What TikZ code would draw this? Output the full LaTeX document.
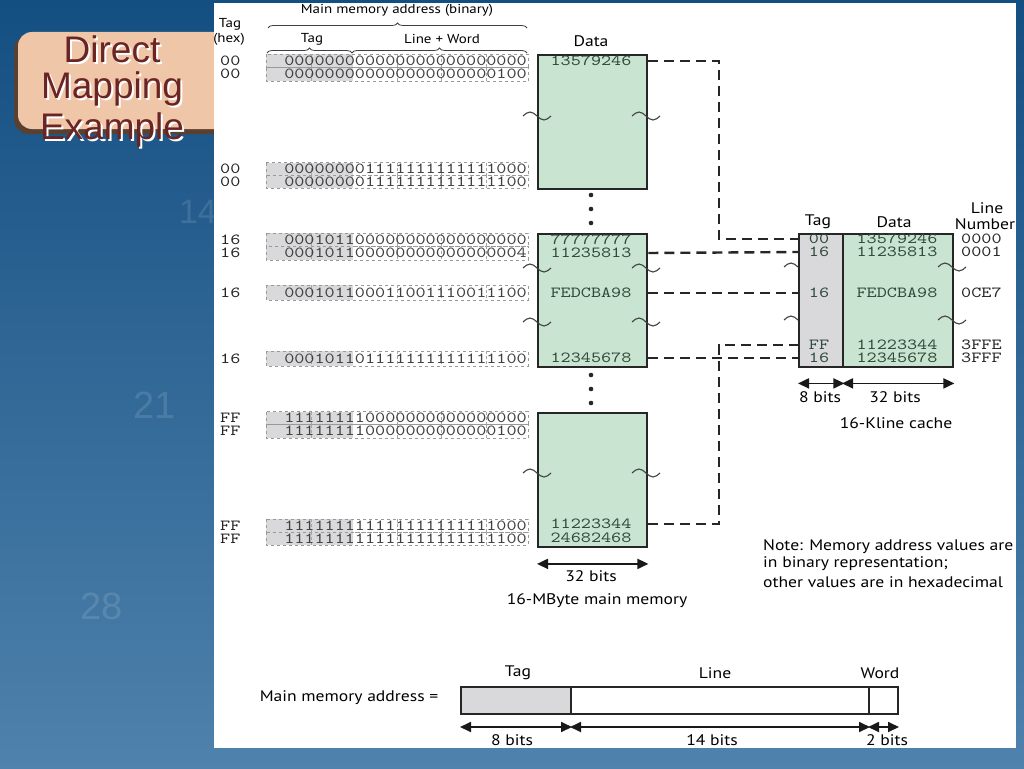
\documentclass[tikz,border=0pt]{standalone}
\usepackage{fontspec}
\setmainfont{PT Sans}[FakeStretch=1.15]
\newfontfamily\titlefont{Liberation Sans}
\newfontfamily\monofont{lmmono10-regular.otf}[FakeStretch=1.25]
\usetikzlibrary{arrows.meta,decorations.pathreplacing}
\definecolor{bgtop}{HTML}{144F82}
\definecolor{bgbot}{HTML}{4F82AC}
\definecolor{memgreen}{HTML}{C9E5D1}
\definecolor{taggray}{HTML}{D9D9DB}
\definecolor{datatxt}{HTML}{2F4A3A}
\definecolor{titlered}{HTML}{6B2424}
\definecolor{peach}{HTML}{F0C6A8}
\definecolor{peachdark}{HTML}{5A4030}
\begin{document}
\begin{tikzpicture}[x=1pt,y=-1pt,
  memblock/.style={draw=black!85, line width=2.4pt, fill=memgreen, inner sep=0, anchor=north west},
  tagcol/.style={draw=black!85, line width=2.4pt, fill=taggray, inner sep=0, anchor=north west},
  mono/.style={font=\fontsize{15.4}{17}\monofont, text=datatxt, inner sep=0},
  hexlbl/.style={font=\fontsize{15.4}{17}\monofont, text=black!85, inner sep=0, anchor=west},
  lbl/.style={font=\fontsize{15.3}{18}\selectfont, inner sep=0, text=black},
  small/.style={font=\fontsize{13}{15}\selectfont, inner sep=0, text=black},
  link/.style={line width=2.4pt, dash pattern=on 10pt off 6pt, black!85},
  dim/.style={line width=1.8pt, black!90, {Triangle[length=11pt,width=10pt]}-{Triangle[length=11pt,width=10pt]}},
  tilde/.style={line width=1.1pt, black!75},
  addrbox/.style={draw=gray!80, dashed, line width=0.7pt},
  addrsep/.style={draw=gray!70, densely dashed, line width=0.6pt},
  brc/.style={decorate, decoration={brace, amplitude=5pt}, line width=0.8pt, black!75},
  field/.style={draw=black!85, line width=2pt, inner sep=0, anchor=north west, minimum height=27pt},
  ttl/.style={font=\fontsize{37}{42}\titlefont, inner sep=0}
]
\useasboundingbox (0,0) rectangle (1024,768);
% background
\shade[top color=bgtop, bottom color=bgbot] (0,0) rectangle (1024,768);
\node[font=\fontsize{34}{36}\titlefont, text=white, opacity=0.12] (bgn1) at (198,212) {14};
\node[font=\fontsize{38}{40}\titlefont, text=white, opacity=0.12] (bgn2) at (155,405) {21};
\node[font=\fontsize{38}{40}\titlefont, text=white, opacity=0.12] (bgn3) at (102,606) {28};
% title box
\fill[peachdark, rounded corners=15pt] (14,35) rectangle (240,134);
\fill[peach, rounded corners=14pt] (18,32) rectangle (240,129);
\foreach \yy/\txt [count=\k] in {49/Direct, 89/Mapping, 130/Example} {
  \node[ttl, text=white] (tsh\k) at (114,\yy+2) {\txt};
  \node[ttl, text=titlered] (t\k) at (112,\yy) {\txt};
}
% white panel
\fill[white] (214,3) rectangle (1016,748);
% headers
\node[small] (hTag) at (230,24) {Tag};
\node[small] (hHex) at (229,39) {(hex)};
\node[small] (hMain) at (397,10) {Main memory address (binary)};
\draw[brc] (268,28) -- (527,28);
\node[small] (hTag2) at (312,39) {Tag};
\node[small] (hLW) at (442,39) {Line + Word};
\draw[brc] (267,53) -- (352,53);
\draw[brc] (352,53) -- (527,53);
\node[lbl] (hData) at (591,41) {Data};
% address rows
\foreach \t/\b/\h/\bits [count=\i] in {
  54/67.5/00/000000000000000000000000,
  67.5/81/00/000000000000000000000100,
  162.5/175/00/000000001111111111111000,
  175/188/00/000000001111111111111100,
  233/246/16/000101100000000000000000,
  246/260/16/000101100000000000000004,
  285/300/16/000101100011001110011100,
  351/366/16/000101101111111111111100,
  411.5/424.5/FF/111111110000000000000000,
  424.5/438/FF/111111110000000000000100,
  519/532/FF/111111111111111111111000,
  532/545/FF/111111111111111111111100} {
  \fill[taggray] (266,\t) rectangle (353,\b);
  \draw[addrbox] (266,\t) rectangle (528,\b);
  \foreach \sx in {311,397,441,486} \draw[addrsep] (\sx,\t) -- (\sx,\b);
  \node[mono, anchor=east, text=black!75] (bits\i) at (527,{(\t+\b)/2}) {\bits};
  \node[hexlbl] (hex\i) at (220,{(\t+\b)/2}) {\h};
}
% memory blocks
\node[memblock, minimum width=109pt, minimum height=134pt] (m1) at (537,54) {};
\node[memblock, minimum width=109pt, minimum height=133pt] (m2) at (537,233) {};
\node[memblock, minimum width=109pt, minimum height=134pt] (m3) at (537,411.5) {};
\node[mono] (d1) at (591,61) {13579246};
\node[mono] (d2) at (591,239.5) {77777777};
\node[mono] (d3) at (591,253) {11235813};
\node[mono] (d4) at (591,293) {FEDCBA98};
\node[mono] (d5) at (591,358) {12345678};
\node[mono] (d6) at (591,524) {11223344};
\node[mono] (d7) at (591,538) {24682468};
% dots
\foreach \dy in {195,209,223,375,389,403} \fill[black!85] (591,\dy) circle (2.3);
% tildes on memory
\foreach \cx/\cy in {537/116,646/116,537/268,646/268,537/322,646/322,537/473,646/473}
  \draw[tilde] (\cx-14,\cy) sin (\cx-7,\cy-4) cos (\cx,\cy) sin (\cx+7,\cy+4) cos (\cx+14,\cy);
% cache
\node[tagcol, minimum width=44pt, minimum height=133pt] (ctag) at (798,233) {};
\node[memblock, minimum width=110pt, minimum height=133pt] (cdata) at (842,233) {};
\node[lbl] (cTagH) at (818,222) {Tag};
\node[lbl] (cDataH) at (894,222) {Data};
\node[lbl] (cLineH) at (987,208) {Line};
\node[lbl] (cNumH) at (985,224) {Number};
\foreach \yy/\tg/\dt/\ln [count=\j] in {239/00/13579246/0000, 252/16/11235813/0001, 293/16/FEDCBA98/0CE7, 345/FF/11223344/3FFE, 358/16/12345678/3FFF} {
  \node[mono] (ct\j) at (819,\yy) {\tg};
  \node[mono] (cd\j) at (897,\yy) {\dt};
  \node[mono, anchor=west, text=black!85] (ln\j) at (961,\yy) {\ln};
}
\foreach \cy in {267,320} {
  \draw[tilde] (784,\cy) sin (791,\cy-4) cos (798,\cy);
  \draw[tilde] (938,\cy) sin (945,\cy-4) cos (952,\cy) sin (959,\cy+4) cos (966,\cy);
}
% connectors
\coordinate (j1) at (719,61);
\coordinate (j2) at (719,524);
\draw[link] (d1 -| m1.east) -- (j1) |- (ct1 -| ctag.west);
\draw[link] (d3 -| m2.east) -- (ct2 -| ctag.west);
\draw[link] (d4 -| m2.east) -- (ct3 -| ctag.west);
\draw[link] (d5 -| m2.east) -- (ct5 -| ctag.west);
\draw[link] (d6 -| m3.east) -- (j2) |- (ct4 -| ctag.west);
% dimensions
\draw[dim] ([yshift=-16pt]m3.south west) -- ([yshift=-16pt]m3.south east);
\node[lbl] (mm32) at (591,576) {32 bits};
\node[lbl] (mmcap) at (597,601) {16-MByte main memory};
\draw[dim] ([yshift=-15pt]ctag.south west) -- ([yshift=-15pt]ctag.south east);
\draw[dim] ([yshift=-15pt]cdata.south west) -- ([yshift=-15pt]cdata.south east);
\node[lbl] (c8) at (820,397) {8 bits};
\node[lbl] (c32) at (895,397) {32 bits};
\node[lbl] (ccap) at (896,423) {16-Kline cache};
% note
\node[lbl, anchor=west] (n1) at (763,547) {Note: Memory address values are};
\node[lbl, anchor=west] (n2) at (763,564) {in binary representation;};
\node[lbl, anchor=west] (n3) at (763,582) {other values are in hexadecimal};
% bottom address format
\node[lbl] (fmt) at (349,698) {Main memory address =};
\node[field, fill=taggray, minimum width=110pt] (ftag) at (460,686) {};
\node[field, fill=white, minimum width=298pt] (fline) at (570,686) {};
\node[field, fill=white, minimum width=29pt] (fword) at (868,686) {};
\node[lbl] (fTagL) at (518,673) {Tag};
\node[lbl] (fLineL) at (715,673) {Line};
\node[lbl] (fWordL) at (880,673) {Word};
\draw[dim] ([yshift=-12pt]ftag.south west) -- ([yshift=-12pt]ftag.south east);
\draw[dim] ([yshift=-12pt]fline.south west) -- ([yshift=-12pt]fline.south east);
\draw[dim] ([yshift=-12pt]fword.south west) -- ([yshift=-12pt]fword.south east);
\node[lbl] (f8) at (512,740) {8 bits};
\node[lbl] (f14) at (712,740) {14 bits};
\node[lbl] (f2) at (887,740) {2 bits};
\end{tikzpicture}
\end{document}
